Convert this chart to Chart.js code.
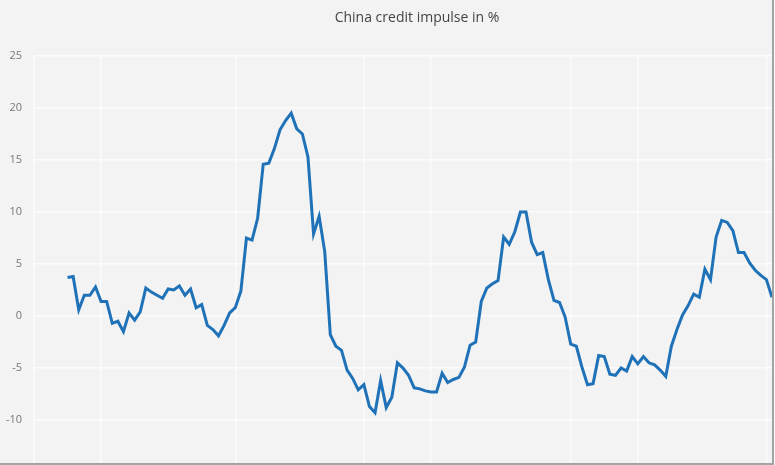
<!DOCTYPE html>
<html>
<head>
<meta charset="utf-8">
<script src="https://cdn.jsdelivr.net/npm/chart.js@4/dist/chart.umd.min.js"></script>
<style>
  body { margin: 0; background: #fff; }
  #wrap {
    width: 772px; height: 463px;
    border-right: 2px solid #a4a4a4;
    border-bottom: 2px solid #a4a4a4;
    background: #f3f3f3;
  }
</style>
</head>
<body>
<div id="wrap"><canvas id="chart" width="772" height="463"></canvas></div>
<script>
// monthly credit impulse readings, %
const impulse = [
  3.7, 3.8, 0.6, 2.0, 2.0, 2.8, 1.4, 1.4, -0.7, -0.5,
  -1.5, 0.3, -0.4, 0.4, 2.7, 2.3, 2.0, 1.7, 2.6, 2.5,
  2.9, 2.0, 2.6, 0.8, 1.1, -0.9, -1.3, -1.9, -0.9, 0.3,
  0.8, 2.4, 7.5, 7.3, 9.4, 14.6, 14.7, 16.1, 17.9, 18.8,
  19.5, 18.0, 17.5, 15.3, 7.9, 9.6, 6.2, -1.8, -2.9, -3.3,
  -5.2, -6.0, -7.1, -6.6, -8.7, -9.3, -6.2, -8.8, -7.8, -4.5,
  -5.0, -5.7, -6.9, -7.0, -7.2, -7.3, -7.3, -5.5, -6.4, -6.1,
  -5.9, -4.9, -2.8, -2.5, 1.4, 2.7, 3.1, 3.4, 7.6, 6.9,
  8.1, 10.0, 10.0, 7.1, 5.9, 6.1, 3.5, 1.5, 1.3, -0.1,
  -2.7, -2.9, -4.9, -6.6, -6.5, -3.8, -3.9, -5.6, -5.7, -5.0,
  -5.3, -3.9, -4.6, -3.9, -4.5, -4.7, -5.2, -5.8, -2.9, -1.3,
  0.1, 1.0, 2.1, 1.8, 4.5, 3.5, 7.6, 9.2, 9.0, 8.2,
  6.1, 6.1, 5.1, 4.4, 3.9, 3.5, 1.8
];
const months = impulse.map((_, i) => i);
const yTicks = [-10, -5, 0, 5, 10, 15, 20, 25];
const xGrid = [-6, 6, 30, 53, 65, 90, 102, 125];

const titleText = "China credit impulse in %";

const titlePlugin = {
  id: "plotTitle",
  afterDraw(chart) {
    const c = chart.ctx;
    c.save();
    c.font = "14px 'Open Sans', sans-serif";
    c.fillStyle = "#444";
    c.textAlign = "center";
    c.textBaseline = "middle";
    c.fillText(titleText, 417, 18);
    c.restore();
  }
};

const faintGrid = { color: "rgba(255,255,255,0.75)", lineWidth: 1.5, drawTicks: false };

new Chart(document.getElementById("chart"), {
  type: "line",
  data: {
    datasets: [{
      data: months.map((m, i) => ({ x: m, y: impulse[i] })),
      borderColor: "#1f72b8",
      borderWidth: 3,
      pointRadius: 0,
      tension: 0,
      fill: false
    }]
  },
  options: {
    responsive: false,
    animation: false,
    layout: { padding: { top: 56, right: 0, bottom: 0, left: 0 } },
    plugins: { legend: { display: false }, tooltip: { enabled: false } },
    scales: {
      x: {
        type: "linear",
        min: -6,
        max: 126,
        afterBuildTicks: s => { s.ticks = xGrid.map(v => ({ value: v })); },
        afterFit: s => { s.height = 0; s.paddingLeft = 0; s.paddingRight = 0; },
        ticks: { display: false },
        grid: faintGrid,
        border: { display: false }
      },
      y: {
        min: -14.13,
        max: 25,
        afterBuildTicks: s => { s.ticks = yTicks.map(v => ({ value: v })); },
        afterFit: s => { s.width = 34; s.paddingTop = 0; s.paddingBottom = 0; },
        ticks: {
          color: "#777",
          padding: 12,
          font: { family: "'Open Sans', sans-serif", size: 11 }
        },
        grid: faintGrid,
        border: { display: false }
      }
    }
  },
  plugins: [titlePlugin]
});
</script>
</body>
</html>
